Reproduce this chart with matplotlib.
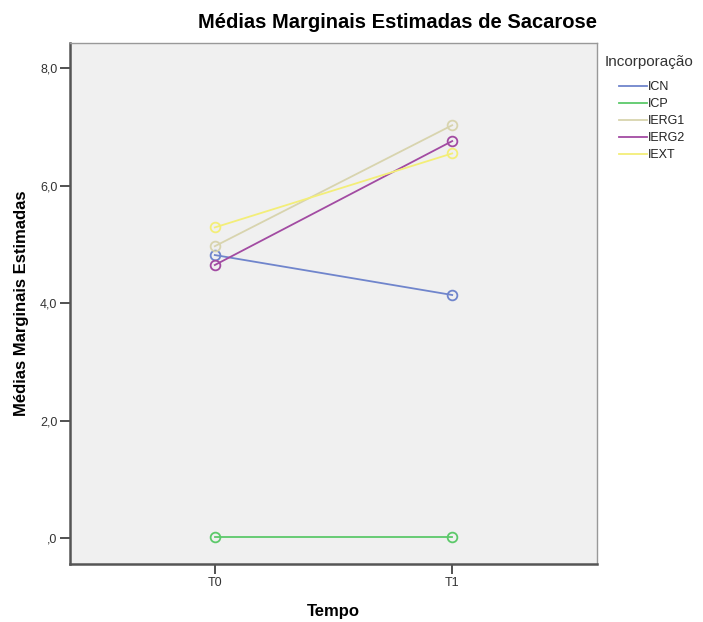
import matplotlib
matplotlib.use("Agg")
import matplotlib.pyplot as plt

plt.rcParams['font.family'] = ['Liberation Sans', 'DejaVu Sans']

tempos = ["T0", "T1"]
series_names = ["ICN", "ICP", "IERG1", "IERG2", "IEXT"]
icn = [4.82, 4.14]
icp = [0.02, 0.02]
ierg1 = [4.97, 7.03]
ierg2 = [4.65, 6.76]
iext = [5.29, 6.55]
yticks = [0, 2, 4, 6, 8]
ytick_labels = [",0", "2,0", "4,0", "6,0", "8,0"]

colors = ["#7085cc", "#5cc96a", "#d8d4ae", "#a24ba2", "#f3ee78"]
values = [icn, icp, ierg1, ierg2, iext]

fig = plt.figure(figsize=(7.03, 6.22), dpi=100)
ax = fig.add_axes([70/703, 1-564/622, (597-70)/703, (564-43)/622])
ax.set_facecolor("#f0f0f0")

x = list(range(len(tempos)))
for name, vals, c in zip(series_names, values, colors):
    ax.plot(x, vals, color=c, lw=1.3, marker='o', ms=7, mfc='none', mec=c, mew=1.3, label=name)

ax.set_xlim(-0.61, 1.61)
ax.set_ylim(-0.44, 8.43)
ax.set_xticks(x)
ax.set_xticklabels(tempos)
ax.set_yticks(yticks)
ax.set_yticklabels(ytick_labels)
ax.tick_params(axis='both', labelsize=9, colors='#333333', length=7, width=1.2, labelcolor='#333333', pad=2)

for s in ['top', 'right']:
    ax.spines[s].set_color('#999999')
    ax.spines[s].set_linewidth(1.0)
for s in ['left', 'bottom']:
    ax.spines[s].set_color('#555555')
    ax.spines[s].set_linewidth(1.8)

ax.set_xlabel("Tempo", fontsize=12, fontweight='bold', labelpad=11)
ax.set_ylabel("Médias Marginais Estimadas", fontsize=12, fontweight='bold', labelpad=8)
ax.set_title("Médias Marginais Estimadas de Sacarose", fontsize=14.5, fontweight='bold', loc='right', pad=11)

fig.text(605/703, 1-62/622, "Incorporação", fontsize=11, color='#333333', va='center', ha='left')
leg = fig.legend(loc='upper left', bbox_to_anchor=(619/703, 1-81/622), frameon=False,
                 fontsize=9, handlelength=2.2, handletextpad=0.1,
                 labelspacing=0.4, borderaxespad=0.0, borderpad=0.0)
for h in leg.legend_handles:
    h.set_marker('')
for t in leg.get_texts():
    t.set_color('#222222')

fig.savefig("out.png", dpi=100)
